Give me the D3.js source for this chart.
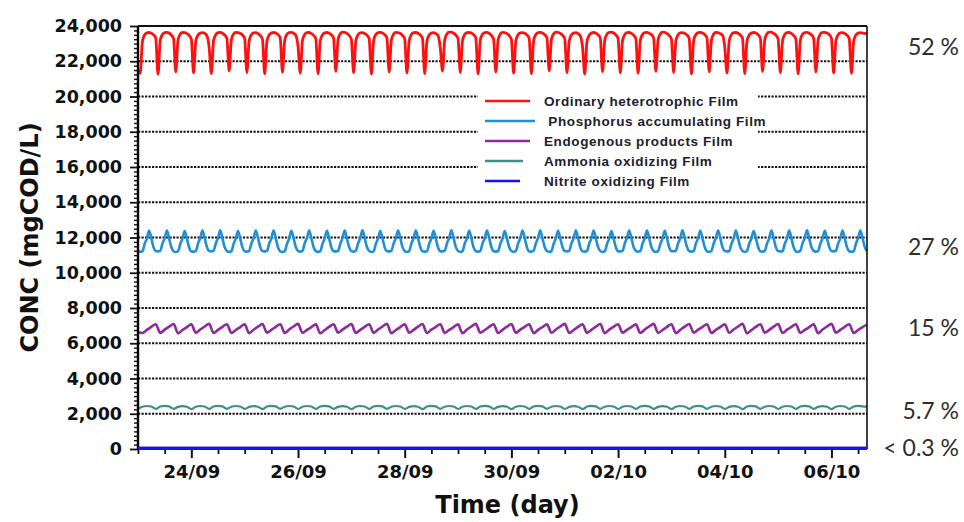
<!DOCTYPE html>
<html>
<head>
<meta charset="utf-8">
<script src="https://cdn.jsdelivr.net/npm/d3@7"></script>
<style>
  body { margin: 0; background: #fff; }
  text { white-space: pre; }
</style>
</head>
<body>
<svg id="chart" width="964" height="522"></svg>
<script>
// ---- series definitions -------------------------------------------------
const seriesNames = [
  "Ordinary heterotrophic Film",
  " Phosphorus accumulating Film",
  "Endogenous products Film",
  "Ammonia oxidizing Film",
  "Nitrite oxidizing Film"
];
const seriesColors = ["#ff1010", "#1f8fd8", "#8e2a9e", "#3f8f88", "#1414f0"];

// simulation clock: first sample and sampling step (hours) for each series
const startTime = "2019-09-23T00:00:00Z";
const endTime = "2019-10-06T16:00:00Z";
const stepHours = [1, 1, 2, 2, 8];

// Ordinary heterotrophic biomass in the film (mgCOD/L), hourly
const heterotrophic = [21450,
  21320,23150,23500,23610,23630,23590,23500,23300,
  21260,23180,23520,23620,23640,23600,23480,23280,
  21400,23200,23540,23630,23620,23570,23470,23260,
  21340,23130,23490,23600,23620,23580,23450,22800,
  21300,23170,23510,23620,23640,23590,23490,23300,
  21450,23210,23550,23640,23630,23580,23490,23290,
  21360,23150,23500,23610,23620,23570,23460,23250,
  21280,23140,23490,23600,23630,23600,23510,23310,
  21380,23190,23530,23630,23640,23590,23470,22850,
  21330,23180,23520,23620,23630,23570,23470,23280,
  21290,23160,23500,23610,23630,23590,23500,23300,
  21430,23220,23560,23650,23640,23580,23460,23250,
  21350,23150,23500,23610,23620,23570,23480,23290,
  21270,23170,23520,23620,23640,23600,23510,23320,
  21390,23200,23540,23640,23630,23580,23470,23270,
  21340,23160,23510,23620,23630,23590,23490,23300,
  21300,23130,23490,23600,23620,23570,23450,22780,
  21440,23210,23550,23650,23650,23590,23480,23280,
  21360,23170,23520,23620,23630,23600,23510,23310,
  21280,23180,23530,23630,23640,23580,23470,23260,
  21390,23190,23540,23640,23630,23570,23460,23250,
  21320,23150,23500,23610,23620,23590,23490,23300,
  21300,23170,23520,23620,23640,23600,23510,23320,
  21450,23220,23560,23650,23640,23580,23480,23280,
  21350,23140,23490,23600,23620,23570,23440,22830,
  21270,23120,23480,23600,23630,23590,23500,23300,
  21410,23190,23540,23640,23650,23600,23490,23290,
  21340,23170,23510,23620,23630,23580,23480,23280,
  21310,23180,23520,23630,23640,23590,23510,23310,
  21430,23210,23550,23650,23640,23570,23460,23260,
  21360,23150,23500,23610,23620,23580,23490,23290,
  21280,23170,23520,23620,23640,23600,23520,23320,
  21400,23190,23540,23640,23630,23570,23470,22820,
  21330,23160,23510,23620,23630,23590,23490,23300,
  21300,23130,23490,23600,23630,23600,23500,23310,
  21420,23220,23560,23650,23650,23580,23480,23270,
  21350,23170,23520,23620,23630,23570,23460,23260,
  21280,23180,23530,23630,23640,23590,23500,23300,
  21390,23190,23540,23640,23640,23600,23510,23310,
  21330,23150,23500,23610,23620,23580,23480,23290,
  21310,23140,23490,23600,23620,23600,23580,23570
];

// Phosphorus accumulating biomass (mgCOD/L), hourly
const phosphorus = [11240,
  11190,11220,11640,11940,12380,11960,11440,11230,
  11210,11240,11660,11960,12400,11950,11450,11220,
  11180,11210,11630,11950,12370,11940,11430,11210,
  11200,11230,11650,11970,12390,11970,11460,11240,
  11220,11250,11670,11960,12410,11950,11450,11230,
  11190,11220,11640,11940,12370,11940,11440,11220,
  11200,11240,11660,11960,12390,11960,11460,11230,
  11210,11230,11650,11950,12400,11950,11440,11210,
  11180,11210,11630,11940,12380,11970,11450,11240,
  11200,11240,11670,11970,12400,11960,11460,11230,
  11190,11220,11640,11950,12380,11950,11440,11220,
  11210,11230,11650,11960,12390,11940,11450,11230,
  11200,11250,11660,11970,12410,11960,11460,11240,
  11180,11220,11640,11940,12370,11950,11440,11220,
  11210,11240,11650,11950,12390,11970,11450,11230,
  11190,11230,11660,11960,12400,11950,11460,11220,
  11200,11220,11640,11950,12380,11940,11440,11210,
  11220,11250,11670,11970,12410,11960,11450,11240,
  11190,11230,11650,11950,12380,11950,11440,11230,
  11200,11240,11660,11960,12390,11970,11460,11220,
  11210,11220,11640,11940,12370,11950,11450,11230,
  11180,11230,11650,11960,12400,11960,11440,11210,
  11200,11250,11670,11970,12410,11940,11450,11240,
  11190,11220,11640,11950,12380,11950,11460,11230,
  11210,11240,11660,11960,12390,11970,11440,11220,
  11200,11230,11650,11950,12400,11960,11450,11230,
  11180,11210,11630,11940,12370,11940,11440,11210,
  11210,11240,11660,11970,12400,11950,11460,11240,
  11200,11230,11650,11960,12390,11960,11450,11230,
  11190,11220,11640,11950,12380,11970,11440,11220,
  11220,11250,11670,11960,12410,11950,11460,11230,
  11200,11230,11650,11950,12380,11940,11450,11210,
  11190,11240,11660,11970,12400,11960,11440,11240,
  11210,11220,11640,11950,12390,11950,11450,11230,
  11180,11230,11650,11960,12370,11970,11460,11220,
  11200,11240,11660,11950,12400,11960,11440,11230,
  11210,11220,11640,11940,12390,11950,11450,11210,
  11190,11250,11670,11970,12410,11940,11460,11240,
  11200,11230,11650,11960,12380,11960,11450,11230,
  11210,11240,11660,11950,12390,11950,11440,11220,
  11190,11220,11640,11960,12400,11970,11450,11230
];

// Endogenous products (mgCOD/L), every 2 h
const endogenous = [6620,
  6580,6760,6930,7080,  6590,6770,6940,7090,  6570,6750,6920,7070,
  6600,6780,6950,7100,  6580,6760,6930,7080,  6590,6750,6920,7070,
  6570,6770,6940,7090,  6600,6760,6930,7080,  6580,6780,6950,7100,
  6590,6760,6920,7070,  6570,6750,6930,7080,  6600,6770,6940,7090,
  6580,6760,6930,7080,  6590,6780,6950,7100,  6570,6750,6920,7070,
  6600,6760,6940,7090,  6580,6770,6930,7080,  6590,6760,6920,7070,
  6570,6780,6950,7100,  6600,6750,6930,7080,  6580,6760,6940,7090,
  6590,6770,6930,7080,  6570,6760,6920,7070,  6600,6780,6950,7100,
  6580,6750,6930,7080,  6590,6760,6940,7090,  6570,6770,6930,7080,
  6600,6760,6920,7070,  6580,6780,6950,7100,  6590,6750,6930,7080,
  6570,6760,6940,7090,  6600,6770,6930,7080,  6580,6760,6920,7070,
  6590,6780,6950,7100,  6570,6750,6930,7080,  6600,6760,6940,7090,
  6580,6770,6930,7080,  6590,6760,6920,7070,  6570,6780,6950,7100,
  6600,6760,6930,7080,  6580,6750,6920,7060
];

// Ammonia oxidizing biomass (mgCOD/L), every 2 h
const ammonia = [2280,
  2400,2440,2410,2270,  2410,2450,2420,2280,  2390,2430,2400,2260,
  2400,2440,2410,2270,  2410,2450,2420,2280,  2400,2440,2410,2270,
  2390,2430,2400,2260,  2410,2450,2420,2280,  2400,2440,2410,2270,
  2400,2440,2410,2270,  2410,2450,2420,2280,  2390,2430,2400,2260,
  2400,2440,2410,2270,  2410,2450,2420,2280,  2400,2440,2410,2270,
  2390,2430,2400,2260,  2410,2450,2420,2280,  2400,2440,2410,2270,
  2400,2440,2410,2270,  2410,2450,2420,2280,  2390,2430,2400,2260,
  2400,2440,2410,2270,  2410,2450,2420,2280,  2400,2440,2410,2270,
  2390,2430,2400,2260,  2410,2450,2420,2280,  2400,2440,2410,2270,
  2400,2440,2410,2270,  2410,2450,2420,2280,  2390,2430,2400,2260,
  2400,2440,2410,2270,  2410,2450,2420,2280,  2400,2440,2410,2270,
  2390,2430,2400,2260,  2410,2450,2420,2280,  2400,2440,2410,2270,
  2400,2440,2410,2270,  2410,2450,2420,2280,  2390,2430,2400,2260,
  2400,2440,2410,2270,  2410,2450,2420,2400
];

// Nitrite oxidizing biomass (mgCOD/L), every 8 h
const nitrite = [
  32,34,33,35,34,33,36,34,35,33,34,36,35,34,33,35,34,36,35,34,33,
  35,34,33,36,34,35,33,34,36,35,34,33,35,34,36,35,34,33,35,34,35
];

const seriesValues = [heterotrophic, phosphorus, endogenous, ammonia, nitrite];

// axis ticks and share annotations
const yTicks = [0, 2000, 4000, 6000, 8000, 10000, 12000, 14000, 16000, 18000, 20000, 22000, 24000];
const xTickLabels = ["24/09", "26/09", "28/09", "30/09", "02/10", "04/10", "06/10"];
const shareLabels = ["52 %", "27 %", "15 %", "5.7 %", "< 0.3 %"];
const shareLevels = [22800, 11450, 6900, 2200, 100];

// ---- layout -------------------------------------------------------------
const W = 964, H = 522;
const margin = { top: 26, right: 97, bottom: 73, left: 138 };
const innerW = W - margin.left - margin.right;
const innerH = H - margin.top - margin.bottom;

const svg = d3.select("#chart");
const g = svg.append("g").attr("transform", `translate(${margin.left},${margin.top})`);

const t0 = new Date(startTime), t1 = new Date(endTime);
const x = d3.scaleUtc().domain([t0, t1]).range([0, innerW]);
const y = d3.scaleLinear().domain([0, 24000]).range([innerH, 0]);

const HOUR = 3600 * 1000;
const parseDay = d3.utcParse("%d/%m/%Y");
const majorDates = xTickLabels.map(s => parseDay(s + "/2019"));
const minorDates = d3.utcHours(t0, t1, 12).filter(d => !majorDates.some(m => +m === +d));

const tickFont = "'DejaVu Sans', sans-serif";

// dotted horizontal gridlines
g.append("g")
  .selectAll("line")
  .data(yTicks.filter(v => v > 0 && v < 24000))
  .join("line")
  .attr("x1", 0).attr("x2", innerW)
  .attr("y1", d => y(d)).attr("y2", d => y(d))
  .attr("stroke", "#111")
  .attr("stroke-width", 2)
  .attr("stroke-dasharray", "2.2,1.3");

// legend backdrop masks the gridlines behind it
const legend = g.append("g").attr("transform", "translate(340,62)");
legend.append("rect")
  .attr("x", 0).attr("y", 0).attr("width", 280).attr("height", 104)
  .attr("fill", "#fff");

// series lines
const line = (step) => d3.line()
  .x((d, i) => x(new Date(+t0 + i * step * HOUR)))
  .y(d => y(d))
  .curve(d3.curveMonotoneX);

const widths = [2.8, 2.6, 2.6, 2.2, 3.2];
seriesValues.forEach((vals, k) => {
  g.append("path")
    .datum(vals)
    .attr("fill", "none")
    .attr("stroke", seriesColors[k])
    .attr("stroke-width", widths[k])
    .attr("stroke-linejoin", "round")
    .attr("d", line(stepHours[k]));
});

// y axis: major + minor ticks
const yMinor = d3.range(0, 24001, 250).filter(v => v % 2000 !== 0);
g.append("g")
  .call(d3.axisLeft(y).tickValues(yMinor).tickSize(4).tickFormat(""))
  .call(a => a.select(".domain").remove())
  .call(a => a.selectAll("line").attr("stroke", "#111").attr("stroke-width", 1.4));
g.append("g")
  .call(d3.axisLeft(y).tickValues(yTicks).tickSize(8).tickPadding(8).tickFormat(d3.format(",")))
  .call(a => a.select(".domain").remove())
  .call(a => a.selectAll("line").attr("stroke", "#111").attr("stroke-width", 1.8))
  .call(a => a.selectAll("text")
    .attr("font-family", tickFont).attr("font-weight", "bold")
    .attr("font-size", 17.5).attr("fill", "#111"));

// x axis: major + minor ticks
g.append("g")
  .attr("transform", `translate(0,${innerH})`)
  .call(d3.axisBottom(x).tickValues(minorDates).tickSize(5).tickFormat(""))
  .call(a => a.select(".domain").remove())
  .call(a => a.selectAll("line").attr("stroke", "#111").attr("stroke-width", 1.8));
g.append("g")
  .attr("transform", `translate(0,${innerH})`)
  .call(d3.axisBottom(x).tickValues(majorDates).tickSize(9).tickPadding(7)
    .tickFormat((d, i) => xTickLabels[i]))
  .call(a => a.select(".domain").remove())
  .call(a => a.selectAll("line").attr("stroke", "#111").attr("stroke-width", 2))
  .call(a => a.selectAll("text")
    .attr("font-family", tickFont).attr("font-weight", "bold")
    .attr("font-size", 18).attr("fill", "#111"));

// frame
g.append("line").attr("x1", 0).attr("x2", innerW).attr("y1", 0).attr("y2", 0)
  .attr("stroke", "#111").attr("stroke-width", 1.8);
g.append("line").attr("x1", innerW).attr("x2", innerW).attr("y1", 0).attr("y2", innerH)
  .attr("stroke", "#111").attr("stroke-width", 1.6);
g.append("line").attr("x1", 0).attr("x2", 0).attr("y1", 0).attr("y2", innerH + 1)
  .attr("stroke", "#000").attr("stroke-width", 2.4);
g.append("line").attr("x1", -1).attr("x2", innerW).attr("y1", innerH).attr("y2", innerH)
  .attr("stroke", "#000").attr("stroke-width", 1.6);

// redraw the near-zero series over the bottom axis
g.append("path")
  .datum(nitrite)
  .attr("fill", "none")
  .attr("stroke", seriesColors[4])
  .attr("stroke-width", 3.2)
  .attr("d", line(stepHours[4]));

// legend entries
const swatchLen = [45, 50, 45, 38, 35];
seriesNames.forEach((name, k) => {
  const row = legend.append("g").attr("transform", `translate(0,${13 + k * 20})`);
  row.append("line")
    .attr("x1", 7).attr("x2", 7 + swatchLen[k])
    .attr("stroke", seriesColors[k]).attr("stroke-width", 2.4);
  row.append("text")
    .attr("x", 66).attr("dy", "0.36em")
    .attr("font-family", "'Liberation Sans', Arial, sans-serif")
    .attr("font-weight", "bold").attr("font-size", 13.5)
    .attr("letter-spacing", 0.6)
    .attr("fill", "#20202c")
    .text(name);
});

// share of total biomass, to the right of the plot
g.append("g")
  .selectAll("text")
  .data(shareLabels)
  .join("text")
  .attr("x", innerW + 92)
  .attr("y", (d, i) => y(shareLevels[i]))
  .attr("dy", "0.36em")
  .attr("text-anchor", "end")
  .attr("font-family", "Lato, 'Open Sans', sans-serif")
  .attr("font-size", 23)
  .attr("fill", "#2e2e2e")
  .text(d => d);

// axis titles
svg.append("text")
  .attr("transform", `translate(38,${margin.top + innerH / 2}) rotate(-90)`)
  .attr("text-anchor", "middle")
  .attr("font-family", tickFont).attr("font-weight", "bold")
  .attr("font-size", 24).attr("fill", "#111")
  .text("CONC (mgCOD/L)");

svg.append("text")
  .attr("x", margin.left + innerW / 2 + 5).attr("y", 513)
  .attr("text-anchor", "middle")
  .attr("font-family", tickFont).attr("font-weight", "bold")
  .attr("font-size", 24).attr("fill", "#111")
  .text("Time (day)");
</script>
</body>
</html>
